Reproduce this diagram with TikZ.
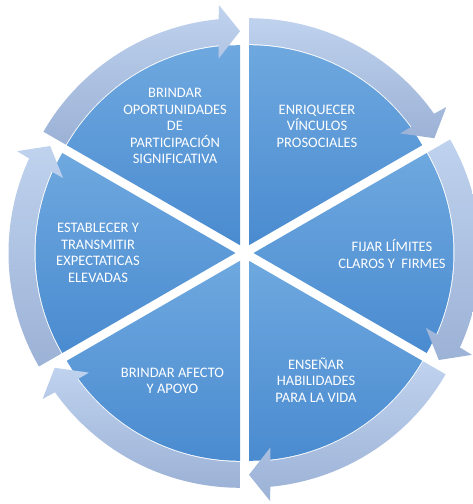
\documentclass[tikz,border=0pt]{standalone}
\usepackage{fontspec}
\setmainfont{Carlito}

\definecolor{segtop}{HTML}{6EA8DF}
\definecolor{segbot}{HTML}{4A8BD0}
\definecolor{ringtop}{HTML}{BFD2EE}
\definecolor{ringbot}{HTML}{9CB2D6}

\tikzset{segment/.style={top color=segtop, bottom color=segbot}}
\tikzset{ring/.style={top color=ringtop, bottom color=ringbot}}

\begin{document}
\begin{tikzpicture}[x=1pt, y=1pt, every node/.style={align=center, text=white, inner sep=0pt, font=\fontsize{14.5}{16.5}\selectfont}]
			\useasboundingbox (0,0) rectangle (473,504);
			
			% pie segments, each pushed out from the middle
			\shade[segment, shift={(249,258.79)}] (0,0) -- (90:200) arc[start angle=90, end angle=30, radius=200] -- cycle;
			\shade[segment, shift={(253.5,251)}] (0,0) -- (30:200) arc[start angle=30, end angle=-30, radius=200] -- cycle;
			\shade[segment, shift={(249,243.21)}] (0,0) -- (-30:200) arc[start angle=-30, end angle=-90, radius=200] -- cycle;
			\shade[segment, shift={(240,243.21)}] (0,0) -- (-90:200) arc[start angle=-90, end angle=-150, radius=200] -- cycle;
			\shade[segment, shift={(235.5,251)}] (0,0) -- (210:200) arc[start angle=210, end angle=150, radius=200] -- cycle;
			\shade[segment, shift={(240,258.79)}] (0,0) -- (150:200) arc[start angle=150, end angle=90, radius=200] -- cycle;
			
			% circular arrows round the rim
			\shade[ring, shift={(249,258.79)}] (90:201) arc[start angle=90, end angle=36.1, radius=201] -- (36.5:188) -- (30:214) -- (35:241) -- (35.4:227) arc[start angle=35.4, end angle=90, radius=227] -- cycle;
			\shade[ring, shift={(253.5,251)}] (30:201) arc[start angle=30, end angle=-23.9, radius=201] -- (-23.5:188) -- (-30:214) -- (-25:241) -- (-24.6:227) arc[start angle=-24.6, end angle=30, radius=227] -- cycle;
			\shade[ring, shift={(249,243.21)}] (-30:201) arc[start angle=-30, end angle=-83.9, radius=201] -- (-83.5:188) -- (-90:214) -- (-85:241) -- (-84.6:227) arc[start angle=-84.6, end angle=-30, radius=227] -- cycle;
			\shade[ring, shift={(240,243.21)}] (-90:201) arc[start angle=-90, end angle=-143.9, radius=201] -- (-143.5:188) -- (-150:214) -- (-145:241) -- (-144.6:227) arc[start angle=-144.6, end angle=-90, radius=227] -- cycle;
			\shade[ring, shift={(235.5,251)}] (210:201) arc[start angle=210, end angle=156.1, radius=201] -- (156.5:188) -- (150:214) -- (155:241) -- (155.4:227) arc[start angle=155.4, end angle=210, radius=227] -- cycle;
			\shade[ring, shift={(240,258.79)}] (150:201) arc[start angle=150, end angle=96.1, radius=201] -- (96.5:188) -- (90:214) -- (95:241) -- (95.4:227) arc[start angle=95.4, end angle=150, radius=227] -- cycle;
			
			\node (oportunidades) at (175,378) {BRINDAR\\OPORTUNIDADES\\DE\\PARTICIPACIÓN\\SIGNIFICATIVA};
			\node (vinculos) at (317,378) {ENRIQUECER\\VÍNCULOS\\PROSOCIALES};
			\node (limites) at (392,250) {FIJAR LÍMITES\\CLAROS Y\ \ FIRMES};
			\node (habilidades) at (316,124) {ENSEÑAR\\HABILIDADES\\PARA LA VIDA};
			\node (afecto) at (172.5,123) {BRINDAR AFECTO\\Y APOYO};
			\node (expectativas) at (98,251) {ESTABLECER Y\\TRANSMITIR\\EXPECTATICAS\\ELEVADAS};
			
		\end{tikzpicture}
\end{document}
